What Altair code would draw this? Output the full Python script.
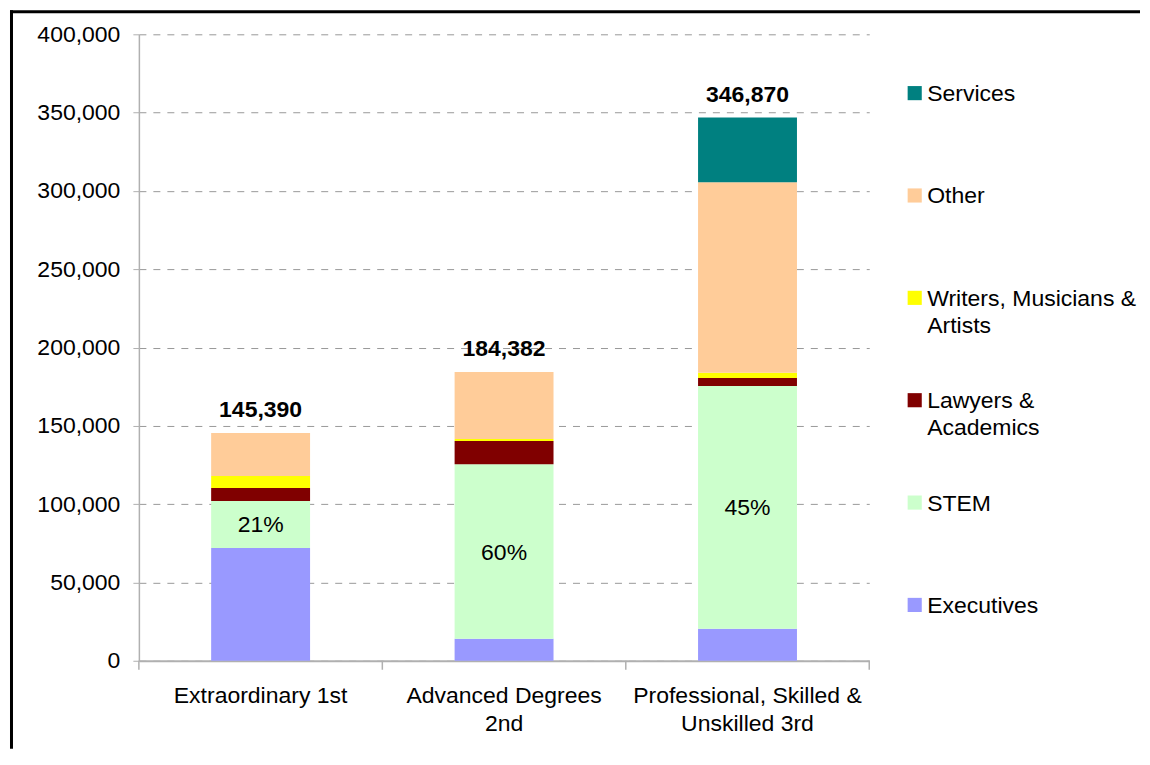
import altair as alt
import pandas as pd

# ---- data ----
categories = ["Extraordinary 1st", "Advanced Degrees 2nd", "Professional, Skilled & Unskilled 3rd"]
category_lines = [["Extraordinary 1st"], ["Advanced Degrees", "2nd"], ["Professional, Skilled &", "Unskilled 3rd"]]

series = ["Executives", "STEM", "Lawyers & Academics", "Writers, Musicians & Artists", "Other", "Services"]
series_lines = ["Executives", "STEM", "Lawyers &\nAcademics", "Writers, Musicians &\nArtists", "Other", "Services"]
colors = ["#9999FF", "#CCFFCC", "#800000", "#FFFF00", "#FFCC99", "#008080"]

executives = [72000, 14000, 20400]
stem = [30000, 111500, 155000]
lawyers = [8300, 14800, 5100]
writers = [7700, 1300, 3400]
other = [27390, 42782, 121700]
services = [0, 0, 41270]

totals = [145390, 184382, 346870]
stem_share = ["21%", "60%", "45%"]
y_ticks = [0, 50000, 100000, 150000, 200000, 250000, 300000, 350000, 400000]

FONT = "Liberation Sans"
FS = 23
W, H = 731, 627

# ---- tables ----
values_by_series = [executives, stem, lawyers, writers, other, services]
rows = []
for si, (s, vals) in enumerate(zip(series, values_by_series)):
    for ci, c in enumerate(categories):
        if vals[ci] > 0:
            rows.append({"category": c, "series": s, "idx": si, "value": vals[ci]})
df = pd.DataFrame(rows)

tot_df = pd.DataFrame({"category": categories, "total": totals})
pct_df = pd.DataFrame({
    "category": categories,
    "mid": [e + s / 2 for e, s in zip(executives, stem)],
    "label": stem_share,
})
cat_df = pd.DataFrame({"category": categories})
last_df = pd.DataFrame({"category": categories[-1:]})

legend_order = series[::-1]
leg_df = pd.DataFrame({"series": legend_order, "text": series_lines[::-1]})

label_expr = ""
for c, lines in zip(categories, category_lines):
    arr = "[" + ", ".join("'" + l + "'" for l in lines) + "]"
    label_expr += f"datum.label == '{c}' ? {arr} : "
label_expr += "datum.label"

color_scale = alt.Scale(domain=series, range=colors)
x_scale = alt.Scale(paddingInner=0, paddingOuter=0)
y_scale = alt.Scale(domain=[0, 400000])

bars = alt.Chart(df).mark_bar(size=99).encode(
    x=alt.X("category:N", sort=categories, scale=x_scale, title=None,
            axis=alt.Axis(labelExpr=label_expr, labelAngle=0, ticks=False,
                          labelPadding=24, labelLineHeight=28, labelLimit=0)),
    y=alt.Y("value:Q", stack="zero", scale=y_scale, title=None,
            axis=alt.Axis(values=y_ticks, format=",d")),
    color=alt.Color("series:N", scale=color_scale, legend=None),
    order=alt.Order("idx:Q", sort="ascending"),
)

ticks0 = alt.Chart(cat_df).mark_rule(color="#b0b0b0", strokeWidth=1.5).encode(
    x=alt.X("category:N", sort=categories, bandPosition=0, title=None),
    y=alt.value(H), y2=alt.value(H + 9),
)
ticks1 = alt.Chart(last_df).mark_rule(color="#b0b0b0", strokeWidth=1.5).encode(
    x=alt.X("category:N", sort=categories, bandPosition=1, title=None),
    y=alt.value(H), y2=alt.value(H + 9),
)

tot = alt.Chart(tot_df).mark_text(font=FONT, fontSize=FS, fontWeight="bold",
                                  baseline="alphabetic", dy=-16, color="black").encode(
    x=alt.X("category:N", sort=categories, title=None),
    y=alt.Y("total:Q", title=None),
    text=alt.Text("total:Q", format=",d"),
)

pct = alt.Chart(pct_df).mark_text(font=FONT, fontSize=FS, baseline="middle",
                                  dy=1, color="black").encode(
    x=alt.X("category:N", sort=categories, title=None),
    y=alt.Y("mid:Q", title=None),
    text="label:N",
)

frame_src = pd.DataFrame({"f": [0]})
border_left = alt.Chart(frame_src).mark_rule(color="black", strokeWidth=3).encode(
    x=alt.value(-127.5), y=alt.value(-24), y2=alt.value(715),
)
border_top = alt.Chart(frame_src).mark_rule(color="black", strokeWidth=3).encode(
    x=alt.value(-129), x2=alt.value(1002), y=alt.value(-22.5),
)

left = alt.layer(bars, ticks0, ticks1, pct, tot, border_left, border_top).properties(width=W, height=H)

leg_y = alt.Y("series:N", sort=legend_order,
              scale=alt.Scale(type="point", padding=0.56), axis=None)
squares = alt.Chart(leg_df).mark_square(size=200, opacity=1, filled=True, yOffset=1.5).encode(
    x=alt.value(8.5), y=leg_y,
    color=alt.Color("series:N", scale=color_scale, legend=None),
)
leg_text = alt.Chart(leg_df).mark_text(font=FONT, fontSize=FS, align="left",
                                       baseline="alphabetic", dy=9.5, lineHeight=27,
                                       lineBreak="\n", color="black").encode(
    x=alt.value(21), y=leg_y, text="text:N",
)
legend = alt.layer(squares, leg_text).properties(width=230, height=H)

chart = alt.hconcat(left, legend, spacing=37, bounds="flush").properties(
    padding={"left": 0, "top": 0, "right": 0, "bottom": 0}
).configure_view(stroke=None).configure_axis(
    labelFont=FONT, labelFontSize=FS, labelColor="black",
).configure_axisY(
    grid=True, gridColor="#999999", gridDash=[7, 7], gridWidth=1,
    domainColor="#b0b0b0", domainWidth=1.5, tickColor="#b0b0b0",
    tickSize=6, labelPadding=13,
).configure_axisX(
    grid=False, domainColor="#b0b0b0", domainWidth=2,
)

chart.save("out.html", embed_options={"renderer": "svg", "actions": False})
